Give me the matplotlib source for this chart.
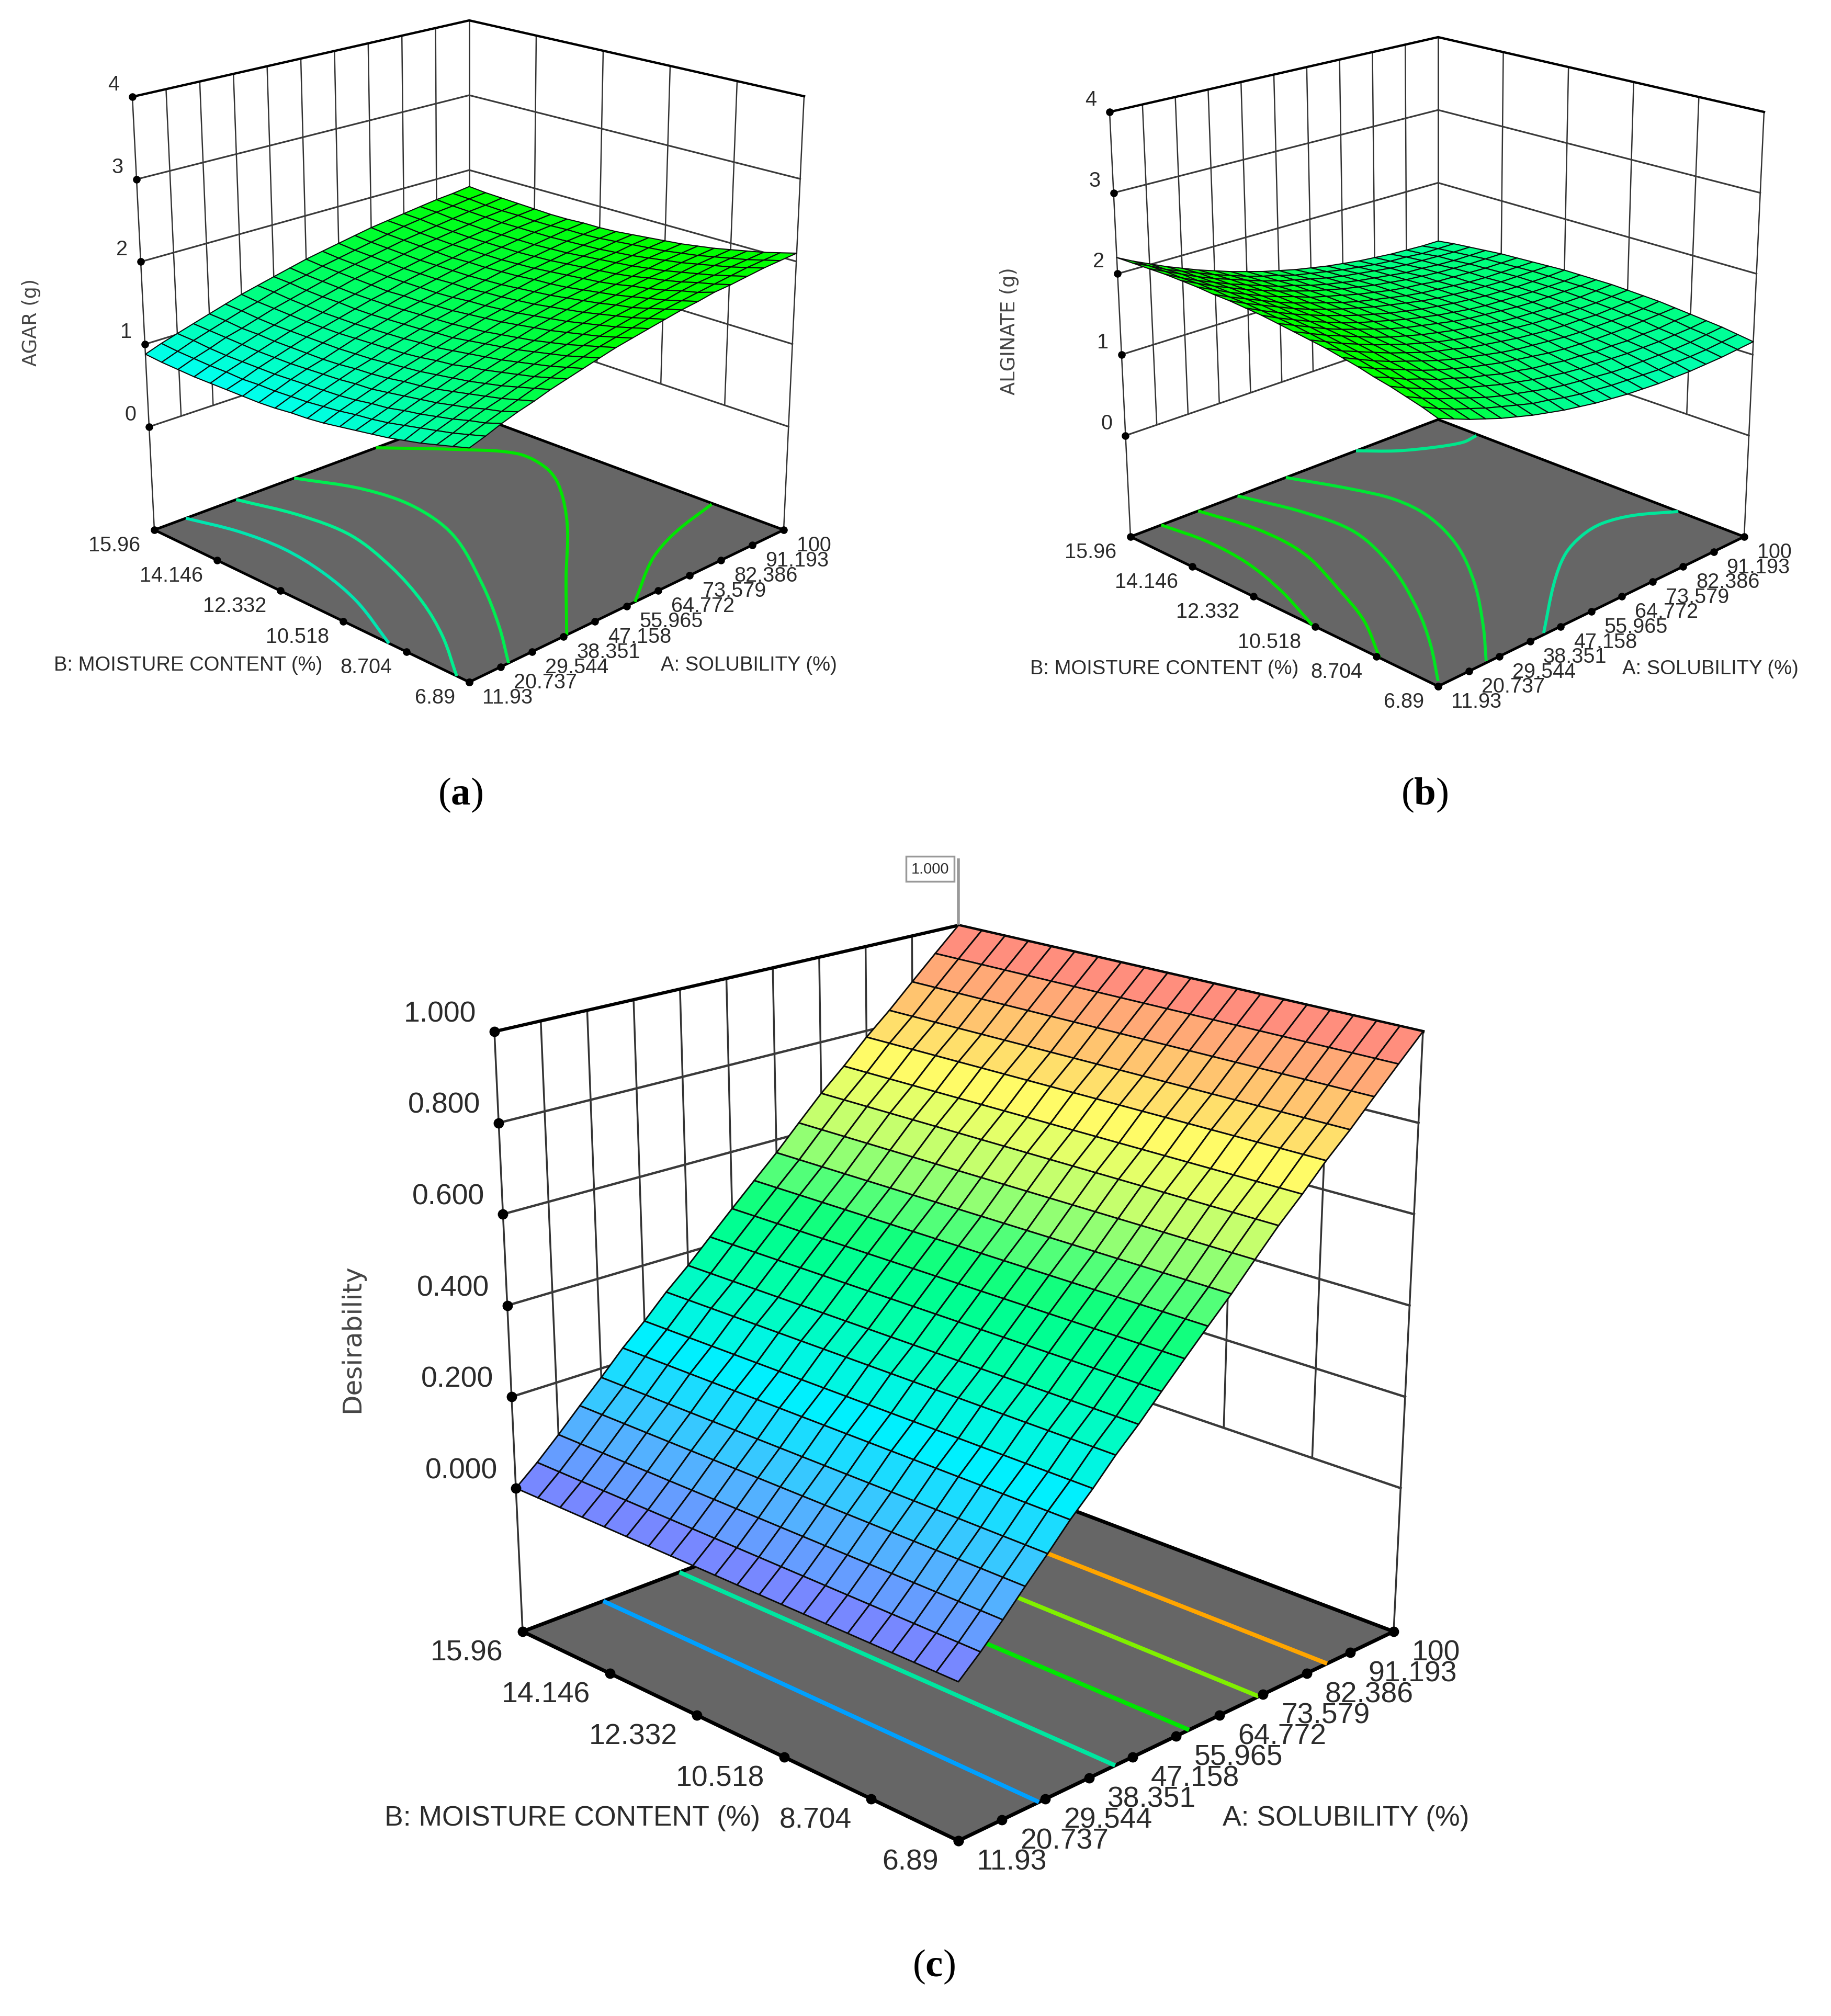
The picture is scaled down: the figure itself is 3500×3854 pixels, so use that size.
import numpy as np
import matplotlib
matplotlib.use("Agg")
import matplotlib.pyplot as plt
from matplotlib.collections import PolyCollection
from matplotlib.colors import LinearSegmentedColormap, Normalize
from matplotlib.patches import PathPatch, Polygon
from matplotlib.path import Path

plt.rcParams['mathtext.fontset'] = 'custom'
plt.rcParams['mathtext.rm'] = 'Liberation Serif'
plt.rcParams['mathtext.bf'] = 'Liberation Serif:bold'

# ---------------------------------------------------------
# Data
# ---------------------------------------------------------
A_TICKS = [11.93, 20.737, 29.544, 38.351, 47.158, 55.965, 64.772, 73.579, 82.386, 91.193, 100]
B_TICKS = [6.89, 8.704, 10.518, 12.332, 14.146, 15.96]
A_LABELS = ['11.93', '20.737', '29.544', '38.351', '47.158', '55.965', '64.772', '73.579', '82.386', '91.193', '100']
B_LABELS = ['6.89', '8.704', '10.518', '12.332', '14.146', '15.96']
G_TICKS = [0, 1, 2, 3, 4]
D_TICKS = [0.0, 0.2, 0.4, 0.6, 0.8, 1.0]
D_LABELS = ['0.000', '0.200', '0.400', '0.600', '0.800', '1.000']

# surface heights: rows go with B (6.89 -> 15.96), columns with A (11.93 -> 100)
AGAR = [
    [1.25, 1.31, 1.38, 1.44, 1.49, 1.55, 1.60, 1.65, 1.70, 1.75, 1.79, 1.83, 1.87, 1.91, 1.94, 1.98, 2.00, 2.03, 2.06, 2.08, 2.10],
    [1.20, 1.26, 1.32, 1.38, 1.44, 1.50, 1.55, 1.60, 1.65, 1.70, 1.74, 1.78, 1.82, 1.86, 1.89, 1.92, 1.95, 1.98, 2.01, 2.03, 2.05],
    [1.15, 1.21, 1.28, 1.34, 1.39, 1.45, 1.50, 1.55, 1.60, 1.65, 1.69, 1.73, 1.77, 1.81, 1.84, 1.88, 1.91, 1.93, 1.96, 1.98, 2.00],
    [1.10, 1.17, 1.23, 1.29, 1.35, 1.40, 1.46, 1.51, 1.56, 1.60, 1.65, 1.69, 1.73, 1.76, 1.80, 1.83, 1.86, 1.89, 1.92, 1.94, 1.96],
    [1.06, 1.13, 1.19, 1.25, 1.31, 1.36, 1.42, 1.47, 1.52, 1.56, 1.61, 1.65, 1.69, 1.73, 1.76, 1.79, 1.82, 1.85, 1.88, 1.90, 1.92],
    [1.02, 1.09, 1.15, 1.21, 1.27, 1.32, 1.38, 1.43, 1.48, 1.52, 1.57, 1.61, 1.65, 1.69, 1.72, 1.76, 1.79, 1.81, 1.84, 1.86, 1.88],
    [0.99, 1.05, 1.12, 1.18, 1.23, 1.29, 1.35, 1.40, 1.45, 1.49, 1.54, 1.58, 1.62, 1.66, 1.69, 1.72, 1.75, 1.78, 1.81, 1.83, 1.85],
    [0.96, 1.02, 1.08, 1.15, 1.20, 1.26, 1.31, 1.37, 1.42, 1.46, 1.51, 1.55, 1.59, 1.63, 1.66, 1.69, 1.72, 1.75, 1.78, 1.80, 1.82],
    [0.93, 1.00, 1.06, 1.12, 1.18, 1.23, 1.29, 1.34, 1.39, 1.43, 1.48, 1.52, 1.56, 1.60, 1.63, 1.67, 1.70, 1.73, 1.75, 1.78, 1.80],
    [0.90, 0.97, 1.03, 1.09, 1.15, 1.21, 1.26, 1.31, 1.36, 1.41, 1.46, 1.50, 1.54, 1.58, 1.61, 1.65, 1.68, 1.71, 1.73, 1.76, 1.78],
    [0.88, 0.95, 1.01, 1.08, 1.13, 1.19, 1.24, 1.30, 1.35, 1.39, 1.44, 1.48, 1.52, 1.56, 1.60, 1.63, 1.66, 1.69, 1.71, 1.74, 1.76],
    [0.87, 0.93, 1.00, 1.06, 1.12, 1.17, 1.23, 1.28, 1.33, 1.38, 1.42, 1.47, 1.51, 1.54, 1.58, 1.61, 1.64, 1.67, 1.70, 1.72, 1.74],
    [0.85, 0.92, 0.99, 1.05, 1.10, 1.16, 1.22, 1.27, 1.32, 1.37, 1.41, 1.45, 1.49, 1.53, 1.57, 1.60, 1.63, 1.66, 1.69, 1.71, 1.73],
    [0.84, 0.91, 0.98, 1.04, 1.09, 1.15, 1.21, 1.26, 1.31, 1.36, 1.40, 1.44, 1.49, 1.52, 1.56, 1.59, 1.62, 1.65, 1.68, 1.71, 1.73],
    [0.84, 0.91, 0.97, 1.03, 1.09, 1.15, 1.20, 1.25, 1.30, 1.35, 1.40, 1.44, 1.48, 1.52, 1.56, 1.59, 1.62, 1.65, 1.68, 1.70, 1.72],
    [0.84, 0.90, 0.97, 1.03, 1.09, 1.15, 1.20, 1.25, 1.30, 1.35, 1.39, 1.44, 1.48, 1.52, 1.55, 1.59, 1.62, 1.65, 1.68, 1.70, 1.72],
    [0.84, 0.91, 0.97, 1.03, 1.09, 1.15, 1.20, 1.25, 1.31, 1.35, 1.40, 1.44, 1.48, 1.52, 1.56, 1.59, 1.62, 1.65, 1.68, 1.71, 1.73],
    [0.84, 0.91, 0.97, 1.04, 1.10, 1.15, 1.21, 1.26, 1.31, 1.36, 1.41, 1.45, 1.49, 1.53, 1.57, 1.60, 1.63, 1.66, 1.69, 1.71, 1.74],
    [0.85, 0.92, 0.98, 1.05, 1.10, 1.16, 1.22, 1.27, 1.32, 1.37, 1.42, 1.46, 1.50, 1.54, 1.58, 1.61, 1.64, 1.67, 1.70, 1.72, 1.75],
    [0.86, 0.93, 1.00, 1.06, 1.12, 1.18, 1.23, 1.29, 1.34, 1.38, 1.43, 1.47, 1.51, 1.55, 1.59, 1.63, 1.66, 1.69, 1.71, 1.74, 1.76],
    [0.88, 0.95, 1.01, 1.07, 1.13, 1.19, 1.25, 1.30, 1.35, 1.40, 1.45, 1.49, 1.53, 1.57, 1.61, 1.64, 1.67, 1.70, 1.73, 1.75, 1.78],
]
ALGINATE = [
    [1.66, 1.59, 1.52, 1.46, 1.40, 1.35, 1.30, 1.26, 1.22, 1.19, 1.16, 1.14, 1.12, 1.11, 1.10, 1.10, 1.10, 1.11, 1.12, 1.14, 1.16],
    [1.72, 1.64, 1.57, 1.51, 1.45, 1.40, 1.35, 1.30, 1.27, 1.23, 1.20, 1.18, 1.16, 1.15, 1.14, 1.13, 1.14, 1.14, 1.15, 1.17, 1.19],
    [1.77, 1.69, 1.62, 1.56, 1.50, 1.44, 1.39, 1.35, 1.31, 1.27, 1.24, 1.22, 1.20, 1.18, 1.17, 1.17, 1.17, 1.17, 1.18, 1.20, 1.22],
    [1.82, 1.74, 1.67, 1.60, 1.54, 1.49, 1.44, 1.39, 1.35, 1.31, 1.28, 1.25, 1.23, 1.22, 1.21, 1.20, 1.20, 1.20, 1.21, 1.22, 1.24],
    [1.86, 1.79, 1.71, 1.65, 1.58, 1.53, 1.47, 1.43, 1.38, 1.35, 1.31, 1.29, 1.26, 1.25, 1.23, 1.23, 1.22, 1.23, 1.23, 1.25, 1.26],
    [1.91, 1.83, 1.76, 1.69, 1.62, 1.56, 1.51, 1.46, 1.42, 1.38, 1.35, 1.32, 1.29, 1.27, 1.26, 1.25, 1.25, 1.25, 1.26, 1.27, 1.28],
    [1.95, 1.87, 1.79, 1.72, 1.66, 1.60, 1.54, 1.49, 1.45, 1.41, 1.37, 1.34, 1.32, 1.30, 1.28, 1.27, 1.27, 1.27, 1.27, 1.28, 1.30],
    [1.99, 1.90, 1.83, 1.76, 1.69, 1.63, 1.57, 1.52, 1.48, 1.43, 1.40, 1.37, 1.34, 1.32, 1.30, 1.29, 1.29, 1.28, 1.29, 1.30, 1.31],
    [2.02, 1.94, 1.86, 1.79, 1.72, 1.66, 1.60, 1.55, 1.50, 1.46, 1.42, 1.39, 1.36, 1.34, 1.32, 1.31, 1.30, 1.30, 1.30, 1.31, 1.32],
    [2.05, 1.97, 1.89, 1.82, 1.75, 1.68, 1.62, 1.57, 1.52, 1.48, 1.44, 1.41, 1.38, 1.35, 1.33, 1.32, 1.31, 1.31, 1.31, 1.32, 1.33],
    [2.08, 2.00, 1.92, 1.84, 1.77, 1.71, 1.65, 1.59, 1.54, 1.50, 1.46, 1.42, 1.39, 1.37, 1.35, 1.33, 1.32, 1.32, 1.32, 1.32, 1.33],
    [2.11, 2.02, 1.94, 1.86, 1.79, 1.72, 1.66, 1.61, 1.56, 1.51, 1.47, 1.43, 1.40, 1.37, 1.35, 1.34, 1.33, 1.32, 1.32, 1.32, 1.33],
    [2.13, 2.04, 1.96, 1.88, 1.81, 1.74, 1.68, 1.62, 1.57, 1.52, 1.48, 1.44, 1.41, 1.38, 1.36, 1.34, 1.33, 1.32, 1.32, 1.32, 1.33],
    [2.15, 2.06, 1.98, 1.90, 1.82, 1.75, 1.69, 1.63, 1.58, 1.53, 1.49, 1.45, 1.41, 1.38, 1.36, 1.34, 1.33, 1.32, 1.32, 1.32, 1.32],
    [2.16, 2.07, 1.99, 1.91, 1.83, 1.76, 1.70, 1.64, 1.58, 1.53, 1.49, 1.45, 1.41, 1.38, 1.36, 1.34, 1.32, 1.31, 1.31, 1.31, 1.31],
    [2.18, 2.09, 2.00, 1.92, 1.84, 1.77, 1.71, 1.64, 1.59, 1.54, 1.49, 1.45, 1.41, 1.38, 1.36, 1.33, 1.32, 1.31, 1.30, 1.30, 1.30],
    [2.19, 2.10, 2.01, 1.93, 1.85, 1.78, 1.71, 1.65, 1.59, 1.54, 1.49, 1.45, 1.41, 1.38, 1.35, 1.33, 1.31, 1.30, 1.29, 1.29, 1.29],
    [2.20, 2.10, 2.01, 1.93, 1.85, 1.78, 1.71, 1.64, 1.59, 1.53, 1.48, 1.44, 1.40, 1.37, 1.34, 1.31, 1.30, 1.28, 1.27, 1.27, 1.27],
    [2.20, 2.11, 2.02, 1.93, 1.85, 1.78, 1.71, 1.64, 1.58, 1.53, 1.48, 1.43, 1.39, 1.36, 1.33, 1.30, 1.28, 1.27, 1.26, 1.25, 1.25],
    [2.20, 2.11, 2.01, 1.93, 1.85, 1.77, 1.70, 1.63, 1.57, 1.52, 1.46, 1.42, 1.38, 1.34, 1.31, 1.28, 1.26, 1.25, 1.23, 1.23, 1.23],
    [2.20, 2.10, 2.01, 1.92, 1.84, 1.76, 1.69, 1.62, 1.56, 1.50, 1.45, 1.40, 1.36, 1.32, 1.29, 1.26, 1.24, 1.22, 1.21, 1.20, 1.20],
]
# desirability only changes along A
DESIRABILITY = [0.00, 0.04, 0.085, 0.133, 0.18, 0.23, 0.275, 0.325, 0.37, 0.42, 0.47,
                0.52, 0.57, 0.625, 0.68, 0.73, 0.785, 0.835, 0.89, 0.945, 1.00]

# floor contours, as fractions of the A and B ranges
AGAR_CONT_A = [[0.10, 0.143, 0.157, 0.137, 0.09, 0.00],
               [0.26, 0.31, 0.32, 0.27, 0.196, 0.11, 0.00],
               [0.444, 0.517, 0.533, 0.487, 0.357, 0.235, 0.125],
               [0.704, 0.824, 0.906, 0.896, 0.844, 0.704, 0.507, 0.31],
               [0.996, 0.835, 0.704, 0.527]]
AGAR_CONT_B = [[1.00, 0.876, 0.746, 0.60, 0.445, 0.255],
               [1.00, 0.845, 0.694, 0.516, 0.344, 0.194, 0.04],
               [1.00, 0.854, 0.708, 0.536, 0.316, 0.14, 0.00],
               [1.00, 0.873, 0.7565, 0.656, 0.559, 0.392, 0.199, 0.00],
               [0.225, 0.181, 0.122, 0.00]]
AGAR_CONT_COLORS = ['#00e6b0', '#00f090', '#00ee50', '#00e600', '#00e600']

ALG_CONT_A = [[0.10, 0.12, 0.11, 0.067, 0.00],
              [0.22, 0.255, 0.243, 0.173, 0.102, 0.00],
              [0.348, 0.40, 0.41, 0.341, 0.229, 0.129, 0.018],
              [0.505, 0.57, 0.603, 0.592, 0.527, 0.417, 0.279, 0.163],
              [0.733, 0.80, 0.88, 0.946, 0.994],
              [1.00, 0.918, 0.84, 0.764, 0.668, 0.543, 0.351]]
ALG_CONT_B = [[1.00, 0.868, 0.729, 0.575, 0.409],
              [1.00, 0.837, 0.677, 0.497, 0.342, 0.19],
              [1.00, 0.833, 0.677, 0.489, 0.294, 0.153, 0.018],
              [1.00, 0.856, 0.742, 0.62, 0.4625, 0.297, 0.131, 0.006],
              [1.00, 0.936, 0.888, 0.863, 0.869],
              [0.215, 0.28, 0.304, 0.293, 0.252, 0.164, 0.006]]
ALG_CONT_COLORS = ['#00e600', '#00e600', '#00e620', '#00e633', '#00e68a', '#00e69a']

DESIR_CONT_A = [0.185, 0.36, 0.53, 0.69, 0.847]
DESIR_CONT_COLORS = ['#00a0ff', '#00e6a0', '#00e600', '#80f000', '#ffa500']

# ---------------------------------------------------------
# Panel boxes in reference pixels, corners in the order
# A low/B low, A high/B low, A low/B high, A high/B high
# ---------------------------------------------------------
BOX_A_FLOOR = [(897, 1305), (1498, 1014), (295, 1014), (897, 791)]
BOX_A_TOP = [(897, 365), (1537, 185), (253, 186), (897, 40)]
BOX_B_FLOOR = [(2749, 1313), (3334, 1027), (2161, 1027), (2749, 803)]
BOX_B_TOP = [(2749, 389), (3372, 215), (2121, 215), (2749, 72)]
BOX_C_FLOOR = [(1832, 3520), (2664, 3120), (999, 3120), (1832, 2805)]
BOX_C_TOP = [(1832, 2248), (2720, 1973), (945, 1973), (1832, 1770)]

cmap_g = LinearSegmentedColormap.from_list('g', [(0, '#0000ff'), (0.2, '#00ffff'), (0.44, '#00ff00'), (1, '#00ff00')])
cmap_d = LinearSegmentedColormap.from_list('d', [(0, '#7f7fff'), (0.12, '#4db8ff'), (0.25, '#00f0ff'), (0.38, '#00ffb0'),
                                                 (0.48, '#00ff80'), (0.62, '#b0ff70'), (0.75, '#ffff66'),
                                                 (0.87, '#ffc070'), (1, '#ff8080')])


def make_box(floor, top, z_floor, z_top):
    # trilinear map from (A fraction, B fraction, height) to pixels
    f = np.array(floor, float)
    t = np.array(top, float)

    def project(a, b, z):
        a, b, z = np.broadcast_arrays(np.asarray(a, float), np.asarray(b, float), np.asarray(z, float))
        w = np.stack([(1 - a) * (1 - b), a * (1 - b), (1 - a) * b, a * b], axis=-1)
        s = ((z - z_floor) / (z_top - z_floor))[..., None]
        p = (1 - s) * (w @ f) + s * (w @ t)
        return p[..., 0], p[..., 1]
    return project


def smooth_path(x, y):
    # bezier through the read points, handles scaled by segment length
    p = np.column_stack([x, y])
    if len(p) < 3:
        return Path(p)
    tang = np.gradient(p, axis=0)
    tang[1:-1] = p[2:] - p[:-2]
    tang = tang / np.linalg.norm(tang, axis=1, keepdims=True)
    verts, codes = [p[0]], [Path.MOVETO]
    for i in range(len(p) - 1):
        seg = np.linalg.norm(p[i + 1] - p[i]) / 3
        verts += [p[i] + tang[i] * seg, p[i + 1] - tang[i + 1] * seg, p[i + 1]]
        codes += [Path.CURVE4] * 3
    return Path(verts, codes)


def draw_panel(ax, project, z_grid, z_ticks, z_labels, z_floor, cmap, norm, scale, conts):
    a_t = (np.array(A_TICKS) - A_TICKS[0]) / (A_TICKS[-1] - A_TICKS[0])
    b_t = (np.array(B_TICKS) - B_TICKS[0]) / (B_TICKS[-1] - B_TICKS[0])
    zt, zb = z_ticks[-1], z_ticks[0]
    sans = 'Liberation Sans'
    fs = 28.5 * scale

    # floor
    fu, fv = project(np.array([0, 1, 1, 0]), np.array([0, 0, 1, 1]), z_floor)
    ax.add_patch(Polygon(np.column_stack([fu, fv]), closed=True, fc='#666666', ec='black',
                         lw=3.6 * scale, joinstyle='miter', zorder=1))
    for ca, cb, col in conts:
        u, v = project(np.array(ca), np.array(cb), z_floor)
        ax.add_patch(PathPatch(smooth_path(u, v), fc='none', ec=col, lw=4.2 * scale, capstyle='butt', zorder=2))

    # walls
    for i, a in enumerate(a_t):
        lo = z_floor if i == 0 else zb
        u, v = project(np.array([a, a]), 1, np.array([zt, lo]))
        ax.plot(u, v, color='#333333', lw=1.8 * scale, zorder=3, solid_capstyle='butt')
    for i, b in enumerate(b_t):
        lo = z_floor if i == 0 else zb
        u, v = project(1, np.array([b, b]), np.array([zt, lo]))
        ax.plot(u, v, color='#333333', lw=1.8 * scale, zorder=3, solid_capstyle='butt')
    for z in z_ticks:
        lw = 3.2 if z == zt else 2.3
        col = 'black' if z == zt else '#3a3a3a'
        u, v = project(np.array([0, 1, 1]), np.array([1, 1, 0]), z)
        ax.plot(u, v, color=col, lw=lw * scale, zorder=3, solid_joinstyle='miter')

    # surface, far cells first
    n = 21
    ga, gb = np.meshgrid(np.linspace(0, 1, n), np.linspace(0, 1, n))
    gz = np.array(z_grid)
    u, v = project(ga, gb, gz)
    cells, vals, depth = [], [], []
    for j in range(n - 1):
        for i in range(n - 1):
            cells.append([(u[j, i], v[j, i]), (u[j, i + 1], v[j, i + 1]),
                          (u[j + 1, i + 1], v[j + 1, i + 1]), (u[j + 1, i], v[j + 1, i])])
            vals.append(gz[j:j + 2, i:i + 2].mean())
            depth.append(ga[j, i] + gb[j, i])
    order = np.argsort(depth)[::-1]
    ax.add_collection(PolyCollection([cells[k] for k in order], facecolors=cmap(norm(np.array(vals)[order])),
                                     edgecolors='#0a0a0a', linewidths=1.5 * scale, zorder=4))

    # tick dots and labels
    ms = 9.5 * scale
    txt = '#2b2b2b'
    u, v = project(0, 1, np.array(z_ticks, float))
    ax.plot(u, v, 'o', color='black', ms=ms, zorder=5, ls='none')
    for x, y, s in zip(u, v, z_labels):
        ax.text(x - 25 * scale, y - 24 * scale, s, ha='right', va='center', fontsize=fs, family=sans, color=txt)
    u, v = project(a_t, 0, z_floor)
    ax.plot(u, v, 'o', color='black', ms=ms, zorder=5, ls='none')
    for x, y, s in zip(u, v, A_LABELS):
        ax.text(x + 25 * scale, y + 29 * scale, s, ha='left', va='center', fontsize=fs, family=sans, color=txt)
    u, v = project(0, b_t, z_floor)
    ax.plot(u, v, 'o', color='black', ms=ms, zorder=5, ls='none')
    for x, y, s in zip(u, v, B_LABELS):
        ax.text(x - 27 * scale, y + 29 * scale, s, ha='right', va='center', fontsize=fs, family=sans, color=txt)


# ---------------------------------------------------------
# Figure
# ---------------------------------------------------------
fig = plt.figure(figsize=(35, 38.55), dpi=100)
ax = fig.add_axes([0, 0, 1, 1])
ax.set_xlim(0, 3500)
ax.set_ylim(3855, 0)
ax.axis('off')

proj_a = make_box(BOX_A_FLOOR, BOX_A_TOP, -1.25, 4)
proj_b = make_box(BOX_B_FLOOR, BOX_B_TOP, -1.25, 4)
proj_c = make_box(BOX_C_FLOOR, BOX_C_TOP, -0.314, 1)

norm_g = Normalize(0, 4)
norm_d = Normalize(0, 1)
g_labels = [str(t) for t in G_TICKS]

draw_panel(ax, proj_a, AGAR, G_TICKS, g_labels, -1.25, cmap_g, norm_g, 1.0,
           list(zip(AGAR_CONT_A, AGAR_CONT_B, AGAR_CONT_COLORS)))
draw_panel(ax, proj_b, ALGINATE, G_TICKS, g_labels, -1.25, cmap_g, norm_g, 1.0,
           list(zip(ALG_CONT_A, ALG_CONT_B, ALG_CONT_COLORS)))
desir_grid = np.tile(DESIRABILITY, (21, 1))
desir_conts = [([a, a], [0, 1], c) for a, c in zip(DESIR_CONT_A, DESIR_CONT_COLORS)]
draw_panel(ax, proj_c, desir_grid, D_TICKS, D_LABELS, -0.314, cmap_d, norm_d, 1.4, desir_conts)

# flag on the top of panel c
fx, fy = proj_c(1, 1, 1.0)
ax.plot([fx, fx], [fy, fy - 128], color='#999999', lw=4, zorder=3, solid_capstyle='butt')
ax.text(fx - 54, fy - 108, '1.000', ha='center', va='center', fontsize=21, family='Liberation Sans', color='#2b2b2b',
        bbox=dict(fc='white', ec='#999999', lw=2.5, boxstyle='square,pad=0.35'), zorder=6)

# axis titles
ax.text(60, 616, 'AGAR (g)', rotation=90, ha='center', va='center', fontsize=26.5, family='DejaVu Sans', color='#444444')
ax.text(1930, 633, 'ALGINATE (g)', rotation=90, ha='center', va='center', fontsize=26.5, family='DejaVu Sans', color='#444444')
ax.text(673, 2559, 'Desirability', rotation=90, ha='center', va='center', fontsize=36, family='DejaVu Sans', color='#444444')

for x, y, s, fs in [(360, 1272, 'B: MOISTURE CONTENT (%)', 27.5), (1431, 1272, 'A: SOLUBILITY (%)', 27.5),
                    (2226, 1279, 'B: MOISTURE CONTENT (%)', 27.5), (3269, 1279, 'A: SOLUBILITY (%)', 27.5),
                    (1094, 3476, 'B: MOISTURE CONTENT (%)', 38.5), (2573, 3476, 'A: SOLUBILITY (%)', 38.5)]:
    ax.text(x, y, s, ha='center', va='center', fontsize=fs, family='Liberation Sans', color='#2b2b2b')

# captions
for x, y, s in [(880, 1520, 'a'), (2723, 1520, 'b'), (1785, 3760, 'c')]:
    ax.text(x, y, '($\\mathbf{' + s + '}$)', ha='center', va='center', fontsize=54, family='Liberation Serif', color='black')

fig.savefig('out.png', dpi=100, facecolor='white')
